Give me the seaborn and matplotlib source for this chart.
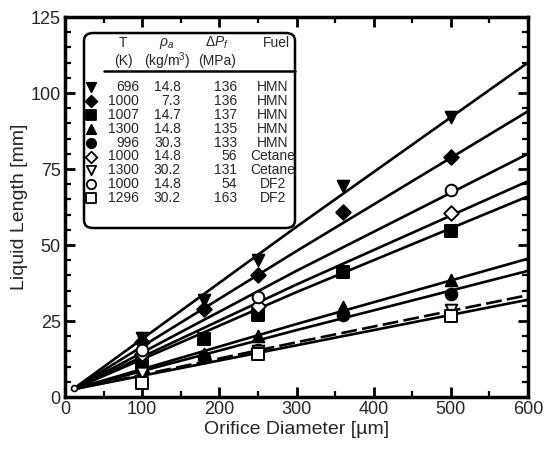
import numpy as np
import pandas as pd
import matplotlib
matplotlib.use("Agg")
import matplotlib.pyplot as plt
from matplotlib.patches import FancyBboxPatch
import seaborn as sns

# ---------------- data ----------------
labels = ["696_14.8", "1000_7.3", "1007_14.7", "1300_14.8", "996_30.3",
          "1000_14.8_C", "1300_30.2_C", "1000_14.8_D", "1296_30.2_D"]
temps = ["696", "1000", "1007", "1300", "996", "1000", "1300", "1000", "1296"]
densities = ["14.8", "7.3", "14.7", "14.8", "30.3", "14.8", "30.2", "14.8", "30.2"]
pressures = ["136", "136", "137", "135", "133", "56", "131", "54", "163"]
fuels = ["HMN", "HMN", "HMN", "HMN", "HMN", "Cetane", "Cetane", "DF2", "DF2"]
markers = ["v", "D", "s", "^", "o", "D", "v", "o", "s"]
filled = [True, True, True, True, True, False, False, False, False]

# measured points (orifice diameter um, liquid length mm)
pts_x = [
    [100, 180, 250, 360, 500],
    [100, 180, 250, 360, 500],
    [100, 180, 250, 360, 500],
    [100, 180, 250, 360, 500],
    [100, 180, 250, 360, 500],
    [100, 250, 500],
    [100, 250, 500],
    [100, 250, 500],
    [100, 250, 500],
]
pts_y = [
    [19.5, 32, 45, 69.5, 92],
    [18, 29, 40, 61, 79],
    [11, 19, 27, 41, 54.5],
    [10, 14, 20, 29.5, 38.5],
    [9, 13, 15.5, 27, 34],
    [14, 30, 60.5],
    [8, 15, 28.5],
    [15.5, 33, 68],
    [4.5, 14, 26.5],
]
# tiny point near the origin
origin_x = [12]
origin_y = [3]

# fitted correlation curves read at these diameters
fit_x = [10, 300, 600]
fit_y = [
    [2.5, 56, 110],
    [2.5, 48, 94],
    [2.5, 34.5, 66],
    [2.5, 24, 45.5],
    [2.5, 22, 41.5],
    [2.5, 37, 71],
    [2.5, 18, 33.5],
    [2.5, 41.5, 80],
    [2.5, 17, 32],
]
dashed = [False, False, False, False, False, False, True, False, False]

xticks = [0, 100, 200, 300, 400, 500, 600]
yticks = [0, 25, 50, 75, 100, 125]

# ---------------- style ----------------
sns.set_theme(style="ticks")
FAM = ["Liberation Sans Narrow", "Liberation Sans", "DejaVu Sans"]
plt.rcParams["font.family"] = FAM
plt.rcParams["mathtext.fontset"] = "custom"
plt.rcParams["mathtext.rm"] = "Liberation Sans"
plt.rcParams["mathtext.it"] = "Liberation Sans:italic"
plt.rcParams["mathtext.bf"] = "Liberation Sans:bold"

fig = plt.figure(figsize=(5.46, 4.53), dpi=100)
ax = fig.add_axes([65 / 546, (453 - 397) / 453, 463 / 546, 380 / 453])

fit_rows = []
for lab, ys in zip(labels, fit_y):
    for x, y in zip(fit_x, ys):
        fit_rows.append({"series": lab, "d": x, "L": y})
fit_df = pd.DataFrame(fit_rows)

for lab, dsh in zip(labels, dashed):
    sub = fit_df[fit_df["series"] == lab]
    sns.lineplot(data=sub, x="d", y="L", ax=ax, color="black", lw=1.9,
                 linestyle=(0, (6, 2)) if dsh else "-", legend=False)

for lab, xs, ys, m, f in zip(labels, pts_x, pts_y, markers, filled):
    df = pd.DataFrame({"d": xs, "L": ys})
    sz = 70 if m != "D" else 55
    sns.scatterplot(data=df, x="d", y="L", ax=ax, marker=m, s=sz,
                    color="black" if f else "white", edgecolor="black",
                    linewidth=1.4, zorder=5, legend=False)

sns.scatterplot(x=origin_x, y=origin_y, ax=ax, marker="o", s=18,
                color="white", edgecolor="black", linewidth=1.2,
                zorder=5, legend=False)

ax.set_xlim(0, 600)
ax.set_ylim(0, 125)
ax.set_xticks(xticks)
ax.set_yticks(yticks)
ax.set_xticks(np.arange(0, 601, 50), minor=True)
ax.set_yticks(np.arange(0, 126, 5), minor=True)
ax.tick_params(which="both", direction="in", top=True, right=True, color="black")
ax.tick_params(which="major", length=7, width=2, labelsize=13, pad=3)
ax.tick_params(which="minor", length=4, width=1.6)
for sp in ax.spines.values():
    sp.set_linewidth(2.5)
    sp.set_color("black")
ax.set_xlabel("Orifice Diameter [µm]", fontsize=14, labelpad=2)
ax.set_ylabel("Liquid Length [mm]", fontsize=14, labelpad=2)


# ---------------- legend table ----------------
def fx(px):
    return (px - 65) / 463


def fy(py):
    return (397 - py) / 380


box = FancyBboxPatch((fx(84), fy(228)), fx(295) - fx(84), fy(33) - fy(228),
                     boxstyle="round,pad=0,rounding_size=0.02",
                     transform=ax.transAxes, facecolor="white",
                     edgecolor="black", lw=1.8, zorder=6)
ax.add_patch(box)

hs = 10
tk = dict(transform=ax.transAxes, fontsize=hs, zorder=7, va="center")
ax.text(fx(123), fy(43), "T", ha="center", **tk)
ax.text(fx(123), fy(61), "(K)", ha="center", **tk)
ax.text(fx(167), fy(43), r"$\rho_a$", ha="center", **tk)
ax.text(fx(167), fy(61), r"(kg/m$^3$)", ha="center", **tk)
ax.text(fx(217), fy(43), r"$\Delta P_f$", ha="center", **tk)
ax.text(fx(217), fy(61), "(MPa)", ha="center", **tk)
ax.text(fx(276), fy(43), "Fuel", ha="center", **tk)
ax.plot([fx(104), fx(295)], [fy(71), fy(71)], transform=ax.transAxes,
        color="black", lw=1.8, zorder=7)

row0, drow = 87, 13.9
for i, (t, r, p, fu, m, f) in enumerate(zip(temps, densities, pressures, fuels, markers, filled)):
    yy = fy(row0 + i * drow)
    ax.scatter([fx(91)], [yy], marker=m, s=45 if m != "D" else 35,
               facecolor="black" if f else "white", edgecolor="black",
               linewidth=1.3, transform=ax.transAxes, zorder=8)
    ax.text(fx(139), yy, t, ha="right", **tk)
    ax.text(fx(181), yy, r, ha="right", **tk)
    ax.text(fx(237), yy, p, ha="right", **tk)
    ax.text(fx(273), yy, fu, ha="center", **tk)

fig.savefig("out.png", dpi=100)
